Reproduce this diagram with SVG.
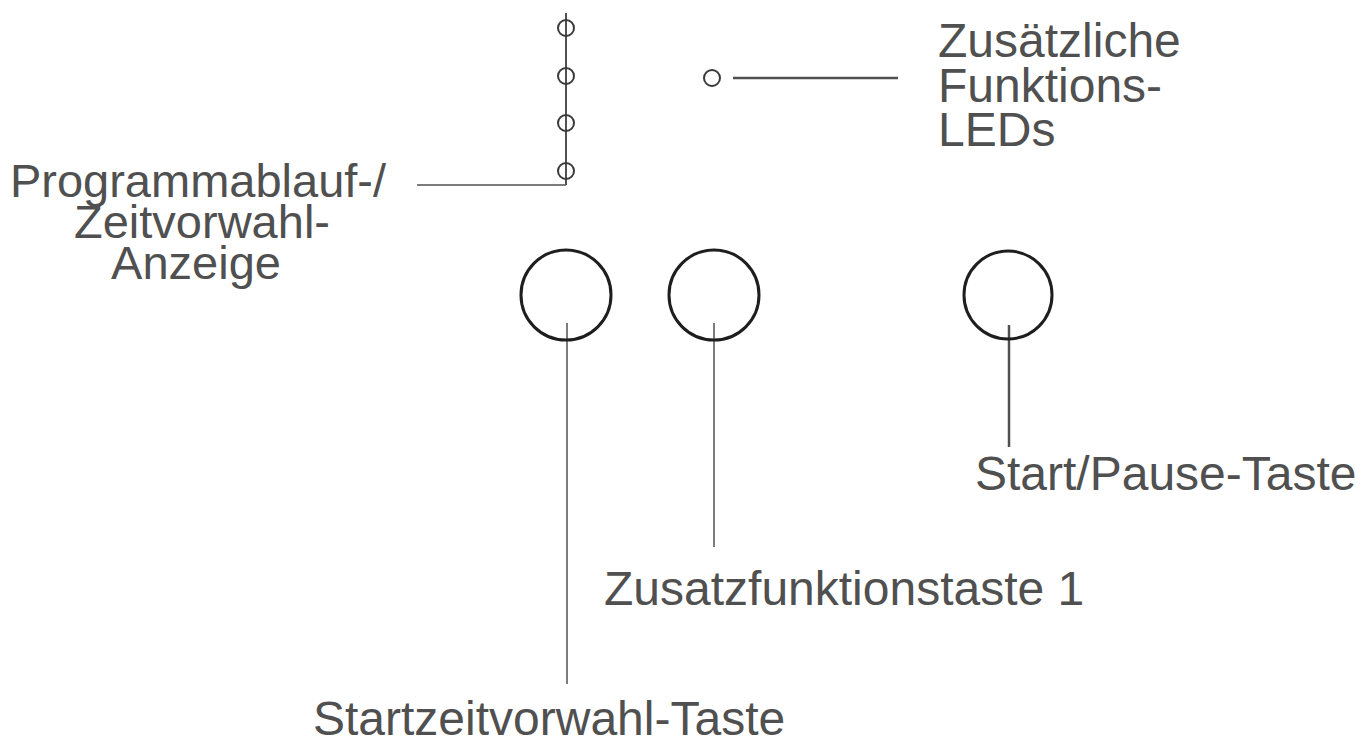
<svg xmlns="http://www.w3.org/2000/svg" width="1371" height="746" viewBox="0 0 1371 746">
<style>
.t{font-family:"Liberation Sans",Arial,sans-serif;font-size:48px;fill:#505050}
.l{font-size:47px;text-anchor:middle}
.big{fill:none;stroke:#1e1e1e;stroke-width:3}
.led{fill:none;stroke:#3a3a3a;stroke-width:2}
.c{stroke:#505050;fill:none}
</style>
<rect width="1371" height="746" fill="#fff"/>
<g id="connectors">
<line class="c" x1="566" y1="13" x2="566" y2="185" stroke-width="2"/>
<polyline class="c" points="417,185 566,185" stroke-width="1.5"/>
<line class="c" x1="733" y1="78" x2="898" y2="78" stroke-width="2.5"/>
<line class="c" x1="567" y1="323" x2="567" y2="684" stroke-width="1.5"/>
<line class="c" x1="714" y1="323" x2="714" y2="547" stroke-width="1.5"/>
<line class="c" x1="1009" y1="325" x2="1009" y2="447" stroke-width="2.5"/>
</g>
<g id="display-leds">
<circle class="led" cx="566" cy="28" r="8"/>
<circle class="led" cx="566" cy="76" r="8"/>
<circle class="led" cx="566" cy="123" r="8"/>
<circle class="led" cx="566" cy="171" r="8"/>
</g>
<g id="function-led"><circle class="led" cx="712" cy="78" r="8"/></g>
<g id="btn-startzeit"><circle class="big" cx="566" cy="295" r="45"/></g>
<g id="btn-zusatz"><circle class="big" cx="714" cy="295" r="45"/></g>
<g id="btn-start"><circle class="big" cx="1008" cy="295" r="44"/></g>
<g id="label-leds">
<text class="t" x="938" y="57">Zusätzliche</text>
<text class="t" x="938" y="102">Funktions-</text>
<text class="t" x="938" y="146">LEDs</text>
</g>
<g id="label-anzeige">
<text class="t l" x="198" y="197">Programmablauf-/</text>
<text class="t l" x="202" y="238">Zeitvorwahl-</text>
<text class="t l" x="196" y="279">Anzeige</text>
</g>
<g id="label-start"><text class="t" x="975" y="490">Start/Pause-Taste</text></g>
<g id="label-zusatz"><text class="t" x="604" y="605">Zusatzfunktionstaste 1</text></g>
<g id="label-startzeit"><text class="t" x="313" y="735">Startzeitvorwahl-Taste</text></g>
</svg>
